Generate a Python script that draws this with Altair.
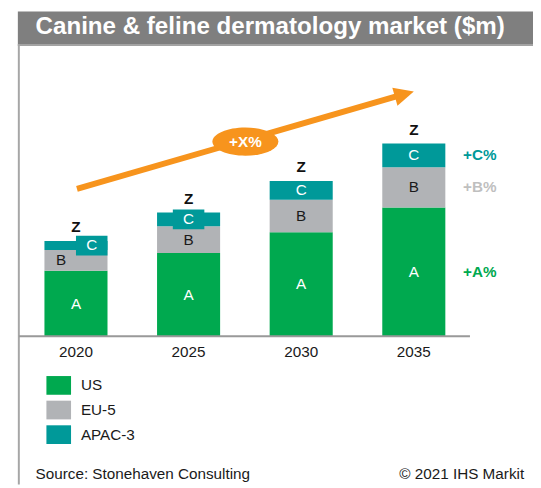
import altair as alt
import pandas as pd

# ---------------- data ----------------
years = ["2020", "2025", "2030", "2035"]
regions = ["US", "EU-5", "APAC-3"]
us = [67, 85, 106, 131]
eu5 = [21, 27, 33, 41]
apac3 = [9, 14, 19, 24]
seg_labels = ["A", "B", "C"]
total_label = "Z"
growth_labels = ["+A%", "+B%", "+C%"]
cagr_label = "+X%"
title_text = "Canine & feline dermatology market ($m)"
source_text = "Source: Stonehaven Consulting"
copyright_text = "\u00a9 2021 IHS Markit"

# ---------------- styles ----------------
colors = ["#00A94F", "#B1B3B6", "#009999"]
growth_colors = ["#00A94F", "#BFBFBF", "#009999"]
label_colors = ["white", "#1a1a1a", "white"]
orange = "#F7941D"
FONT = "Liberation Sans"
FS = 15.5
nudge = {("2020", "EU-5"): -15, ("2020", "APAC-3"): 16}

rows = []
for i, yr in enumerate(years):
    base = 0
    for j, vals in enumerate([us, eu5, apac3]):
        v = vals[i]
        rows.append(dict(year=yr, region=regions[j], k=j, base=base, top=base + v,
                         mid=base + v / 2, label=seg_labels[j], value=v))
        base += v
seg = pd.DataFrame(rows)
tot = seg.groupby("year", as_index=False)["top"].max()
tot["label"] = total_label

one = pd.DataFrame({"k": [0]})

xs = alt.Scale(domain=years, range=[37, 444], paddingInner=0.44, paddingOuter=0)
ys = alt.Scale(domain=[0, 330], range=[330, 0], nice=False, zero=True)
X = alt.X("year:N", scale=xs, axis=None)

layers = []

# title bar
layers.append(alt.Chart(one).mark_rect(color="#7F7F7F").encode(
    x=alt.value(10), x2=alt.value(533), y=alt.value(0), y2=alt.value(35)))
layers.append(alt.Chart(one).mark_rule(color="#A3A3A3", strokeWidth=2).encode(
    x=alt.value(10), x2=alt.value(533), y=alt.value(34), y2=alt.value(34)))
layers.append(alt.Chart(one).mark_text(text=title_text, font=FONT, fontSize=24.5,
                                       fontWeight="bold", color="white", align="left",
                                       baseline="middle").encode(
    x=alt.value(28), y=alt.value(16)))
# left border
layers.append(alt.Chart(one).mark_rule(color="#A6A6A6", strokeWidth=2).encode(
    x=alt.value(11), x2=alt.value(11), y=alt.value(35), y2=alt.value(480)))

# bars
layers.append(alt.Chart(seg).mark_bar().encode(
    x=X,
    y=alt.Y("top:Q", scale=ys, axis=None),
    y2="base:Q",
    color=alt.Color("region:N", scale=alt.Scale(domain=regions, range=colors),
                    legend=alt.Legend(title=None, orient="none", legendX=39, legendY=367,
                                      symbolType="M-1,-0.76H1V0.76H-1Z", symbolSize=625,
                                      symbolStrokeWidth=0, symbolOpacity=1,
                                      labelFontSize=FS, labelFont=FONT,
                                      labelColor="#1a1a1a", labelOffset=10,
                                      rowPadding=3, padding=0)),
    order=alt.Order("k:Q"),
))

# baseline
layers.append(alt.Chart(one).mark_rule(color="#999999", strokeWidth=2).encode(
    x=alt.value(11), x2=alt.value(469), y=alt.value(329.5), y2=alt.value(329.5)))

# label boxes for thin segments (APAC-3)
for j, reg in enumerate(regions):
    sub = seg[(seg.region == reg) & (seg.value < 16)]
    for yr in sub.year.unique():
        d = sub[sub.year == yr]
        off = nudge.get((yr, reg), 0)
        layers.append(alt.Chart(d).mark_point(
            shape="M-1,-0.625H1V0.625H-1Z", size=1024, filled=True, opacity=1,
            color=colors[j], strokeWidth=0, xOffset=off).encode(
            x=X, y=alt.Y("mid:Q", scale=ys, axis=None)))

# segment labels
for j, reg in enumerate(regions):
    sub = seg[seg.region == reg]
    for off in sorted(set(nudge.get((yr, reg), 0) for yr in sub.year)):
        d = sub[[nudge.get((yr, reg), 0) == off for yr in sub.year]]
        layers.append(alt.Chart(d).mark_text(font=FONT, fontSize=FS, color=label_colors[j],
                                             baseline="middle", dx=off).encode(
            x=X, y=alt.Y("mid:Q", scale=ys, axis=None), text="label:N"))

# totals
layers.append(alt.Chart(tot).mark_text(font=FONT, fontSize=FS, fontWeight="bold",
                                       color="#111111", baseline="middle", dy=-14).encode(
    x=X, y=alt.Y("top:Q", scale=ys, axis=None), text="label:N"))

# year labels
layers.append(alt.Chart(tot).mark_text(font=FONT, fontSize=FS, color="#1a1a1a",
                                       baseline="middle").encode(
    x=X, y=alt.value(346), text="year:N"))

# growth labels on the right
last = seg[seg.year == years[-1]]
for j, reg in enumerate(regions):
    d = last[last.region == reg].assign(g=growth_labels[j])
    layers.append(alt.Chart(d).mark_text(font=FONT, fontSize=FS, fontWeight="bold",
                                         color=growth_colors[j], align="left",
                                         baseline="middle").encode(
        x=alt.value(462), y=alt.Y("mid:Q", scale=ys, axis=None), text="g:N"))

# growth arrow
layers.append(alt.Chart(one).mark_rule(color=orange, strokeWidth=6).encode(
    x=alt.value(70), y=alt.value(180), x2=alt.value(396), y2=alt.value(85.5)))
layers.append(alt.Chart(one).mark_point(shape="M1,0L-1,-0.95L-1,0.95Z", size=400,
                                        filled=True, opacity=1, color=orange,
                                        strokeWidth=0, angle=344).encode(
    x=alt.value(402.4), y=alt.value(83.8)))
layers.append(alt.Chart(one).mark_point(shape="M-1,0A1,0.43 0 1,1 1,0A1,0.43 0 1,1 -1,0Z",
                                        size=4489, filled=True, opacity=1, color=orange,
                                        strokeWidth=0).encode(
    x=alt.value(241), y=alt.value(132)))
layers.append(alt.Chart(one).mark_text(text=cagr_label, font=FONT, fontSize=FS,
                                       fontWeight="bold", color="white",
                                       baseline="middle").encode(
    x=alt.value(241), y=alt.value(132)))

# footer
layers.append(alt.Chart(one).mark_text(text=source_text, font=FONT, fontSize=FS,
                                       color="#1a1a1a", align="left",
                                       baseline="middle").encode(
    x=alt.value(28), y=alt.value(470)))
layers.append(alt.Chart(one).mark_text(text=copyright_text, font=FONT, fontSize=FS,
                                       color="#1a1a1a", align="right",
                                       baseline="middle").encode(
    x=alt.value(524), y=alt.value(470)))

chart = alt.layer(*layers).properties(
    width=533, height=480, padding=0, autosize="none", background="white"
).configure_view(stroke=None)

chart.save("out.html", embed_options={"renderer": "svg", "actions": False})
